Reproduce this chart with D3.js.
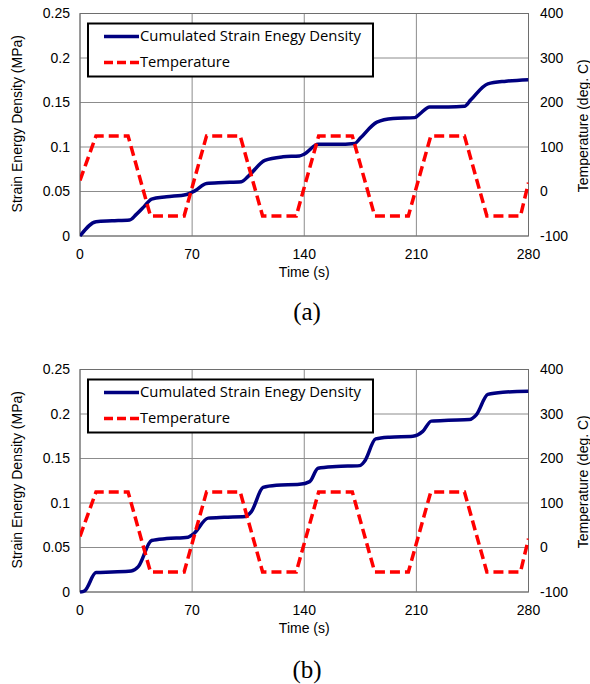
<!DOCTYPE html>
<html>
<head>
<meta charset="utf-8">
<script src="https://d3js.org/d3.v7.min.js"></script>
<style>
  body { margin: 0; padding: 0; background: #ffffff; }
  .tick-label { font-family: "Liberation Sans", Arial, sans-serif; font-size: 14px; fill: #000; }
  .axis-title { font-family: "Liberation Sans", Arial, sans-serif; font-size: 14px; fill: #000; }
  .legend-text { font-family: "Open Sans", "Noto Sans", sans-serif; font-size: 14px; fill: #000; }
  .caption { font-family: "Liberation Serif", "Times New Roman", serif; font-size: 25px; fill: #000; }
</style>
</head>
<body>
<div id="chart"></div>
<script>
// axis ticks
var timeTicks = [0, 70, 140, 210, 280];
var sedTicks = [0, 0.05, 0.1, 0.15, 0.2, 0.25];
var tempTicks = [-100, 0, 100, 200, 300, 400];

// temperature cycle (same in both panels)
var tempTime  = [0, 10, 30, 44, 65, 79, 100, 114, 135, 149, 170, 184, 205, 219, 240, 254, 275, 280];
var tempValue = [25, 125, 125, -55, -55, 125, 125, -55, -55, 125, 125, -55, -55, 125, 125, -55, -55, 20];

// cumulated strain energy density, panel (a)
var sedTimeA  = [0, 10, 20, 31, 35, 40, 44.7, 54, 66.5, 72, 79, 90, 100.8, 105, 115.4, 126.8, 137, 140, 148.6, 160, 171.5, 175, 185.4, 195.4, 209, 212, 218.3, 230, 240, 244, 254.6, 266, 280];
var sedValueA = [0, 0.016, 0.017, 0.018, 0.024, 0.033, 0.0415, 0.044, 0.0467, 0.051, 0.059, 0.060, 0.061, 0.067, 0.085, 0.089, 0.090, 0.092, 0.103, 0.103, 0.104, 0.110, 0.128, 0.132, 0.133, 0.137, 0.145, 0.145, 0.1457, 0.153, 0.171, 0.174, 0.1757];

// cumulated strain energy density, panel (b)
var sedTimeB  = [0, 3, 10, 20, 32, 36.4, 44.7, 54, 67.5, 70.7, 80, 90, 103, 107, 114.3, 122.6, 137, 143.4, 148.6, 160, 174.6, 177.7, 184.6, 193.3, 207.8, 214, 219.3, 230, 243.2, 247.4, 254.6, 264, 280];
var sedValueB = [0, 0.0015, 0.0218, 0.0225, 0.0236, 0.0285, 0.0578, 0.060, 0.0616, 0.065, 0.083, 0.084, 0.0848, 0.0904, 0.1175, 0.120, 0.121, 0.124, 0.139, 0.141, 0.142, 0.147, 0.172, 0.174, 0.175, 0.1805, 0.192, 0.193, 0.1937, 0.199, 0.222, 0.2245, 0.2255];

var width = 590, height = 684;

var svg = d3.select("#chart").append("svg")
    .attr("width", width)
    .attr("height", height);

function drawPanel(top, sedTime, sedValue, caption, captionY, idx) {
    var left = 80, right = 528.5, plotH = 222.5;
    var g = svg.append("g").attr("transform", "translate(0," + top + ")");

    var x = d3.scaleLinear().domain([0, 280]).range([left, right]);
    var y = d3.scaleLinear().domain([0, 0.25]).range([plotH, 0]);
    var y2 = d3.scaleLinear().domain([-100, 400]).range([plotH, 0]);

    g.append("clipPath").attr("id", "clip" + idx)
      .append("rect").attr("x", left).attr("y", -2).attr("width", right - left).attr("height", plotH + 4);

    // gridlines
    g.selectAll(".hgrid").data(sedTicks).enter().append("line")
        .attr("x1", left).attr("x2", right)
        .attr("y1", function(d) { return y(d); }).attr("y2", function(d) { return y(d); })
        .attr("stroke", "#8c8c8c").attr("stroke-width", 1);
    g.selectAll(".vgrid").data(timeTicks).enter().append("line")
        .attr("y1", 0).attr("y2", plotH)
        .attr("x1", function(d) { return x(d); }).attr("x2", function(d) { return x(d); })
        .attr("stroke", "#8c8c8c").attr("stroke-width", 1);

    // plot border
    g.append("rect").attr("x", left).attr("y", 0)
        .attr("width", right - left).attr("height", plotH)
        .attr("fill", "none").attr("stroke", "#6e6e6e").attr("stroke-width", 1);

    // tick labels
    g.selectAll(".ly").data(sedTicks).enter().append("text")
        .attr("class", "tick-label")
        .attr("x", 70).attr("y", function(d) { return y(d); })
        .attr("dy", "0.35em").attr("text-anchor", "end")
        .text(function(d) { return d; });
    g.selectAll(".ry").data(tempTicks).enter().append("text")
        .attr("class", "tick-label")
        .attr("x", 540).attr("y", function(d) { return y2(d); })
        .attr("dy", "0.35em").attr("text-anchor", "start")
        .text(function(d) { return d; });
    g.selectAll(".xt").data(timeTicks).enter().append("text")
        .attr("class", "tick-label")
        .attr("x", function(d) { return x(d); }).attr("y", plotH + 18)
        .attr("dy", "0.35em").attr("text-anchor", "middle")
        .text(function(d) { return d; });

    // axis titles
    g.append("text").attr("class", "axis-title")
        .attr("x", (left + right) / 2).attr("y", plotH + 36).attr("dy", "0.35em")
        .attr("text-anchor", "middle").text("Time (s)");
    g.append("text").attr("class", "axis-title")
        .attr("transform", "translate(17," + (plotH / 2 - 1) + ") rotate(-90)")
        .attr("dy", "0.35em").attr("text-anchor", "middle")
        .text("Strain Energy Density (MPa)");
    g.append("text").attr("class", "axis-title")
        .attr("transform", "translate(583," + (plotH / 2 + 1) + ") rotate(-90)")
        .attr("dy", "0.35em").attr("text-anchor", "middle")
        .text("Temperature (deg. C)");

    // series
    var sedLine = d3.line()
        .x(function(d, i) { return x(sedTime[i]); })
        .y(function(d) { return y(d); })
        .curve(d3.curveMonotoneX);
    g.append("path").datum(sedValue)
        .attr("d", sedLine)
        .attr("fill", "none").attr("stroke", "#000080")
        .attr("stroke-width", 3.5).attr("stroke-linejoin", "round")
        .attr("clip-path", "url(#clip" + idx + ")");

    var tempLine = d3.line()
        .x(function(d, i) { return x(tempTime[i]); })
        .y(function(d) { return y2(d); });
    g.append("path").datum(tempValue)
        .attr("d", tempLine)
        .attr("fill", "none").attr("stroke", "#ff0000")
        .attr("stroke-width", 3.5).attr("stroke-dasharray", "10,5")
        .attr("clip-path", "url(#clip" + idx + ")");

    // legend
    var lg = g.append("g");
    lg.append("rect").attr("x", 88).attr("y", 10)
        .attr("width", 285).attr("height", 53)
        .attr("fill", "#fff").attr("stroke", "#000").attr("stroke-width", 2);
    lg.append("line").attr("x1", 104).attr("x2", 139).attr("y1", 23).attr("y2", 23)
        .attr("stroke", "#000080").attr("stroke-width", 3.5);
    lg.append("line").attr("x1", 104).attr("x2", 139).attr("y1", 49).attr("y2", 49)
        .attr("stroke", "#ff0000").attr("stroke-width", 3.5).attr("stroke-dasharray", "9,4");
    lg.append("text").attr("class", "legend-text")
        .attr("x", 140).attr("y", 23).attr("dy", "0.35em")
        .attr("textLength", 221).attr("lengthAdjust", "spacingAndGlyphs")
        .text("Cumulated Strain Enegy Density");
    lg.append("text").attr("class", "legend-text")
        .attr("x", 140).attr("y", 49).attr("dy", "0.35em")
        .attr("textLength", 90).attr("lengthAdjust", "spacingAndGlyphs")
        .text("Temperature");

    // caption
    g.append("text").attr("class", "caption")
        .attr("x", 307).attr("y", captionY).attr("dy", "0.35em")
        .attr("text-anchor", "middle").text(caption);
}

drawPanel(13.5, sedTimeA, sedValueA, "(a)", 297.5, 0);
drawPanel(369.5, sedTimeB, sedValueB, "(b)", 299.5, 1);
</script>
</body>
</html>
